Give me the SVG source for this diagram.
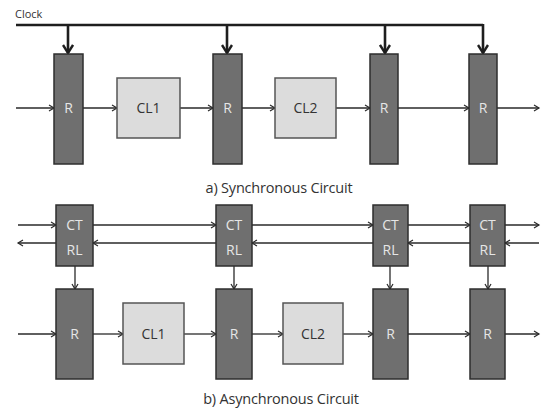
<svg xmlns="http://www.w3.org/2000/svg" width="542" height="410" viewBox="0 0 542 410">
<defs>
<style>
.reg{fill:#6f6f6f;stroke:#2e2e2e;stroke-width:1.5}
.cl{fill:#dcdcdc;stroke:#555;stroke-width:1.5}
.rt{fill:#e6e6e6;font-family:"Open Sans","Liberation Sans",sans-serif;font-size:14px;text-anchor:middle}
.ct{fill:#333;font-family:"Open Sans","Liberation Sans",sans-serif;font-size:14px;text-anchor:middle}
.cap{fill:#333;font-family:"Open Sans","Liberation Sans",sans-serif;font-size:14.5px;text-anchor:middle;letter-spacing:-0.2px}
.w{stroke:#2a2a2a;stroke-width:1.3;fill:none;marker-end:url(#a)}
.v{stroke:#2a2a2a;stroke-width:1.3;fill:none;marker-end:url(#a)}
.clk{stroke:#1e1e1e;stroke-width:2.6;fill:none}
.clkd{stroke:#1e1e1e;stroke-width:2.6;fill:none;marker-end:url(#ca)}
</style>
<marker id="a" markerUnits="userSpaceOnUse" markerWidth="8" markerHeight="8" refX="6" refY="4" orient="auto" viewBox="0 0 8 8">
<path d="M1,1 L6,4 L1,7" fill="none" stroke="#2a2a2a" stroke-width="1.2"/>
</marker>
<marker id="ca" markerUnits="userSpaceOnUse" markerWidth="12" markerHeight="12" refX="9" refY="6" orient="auto" viewBox="0 0 12 12">
<path d="M1,1 L9,6 L1,11" fill="none" stroke="#1e1e1e" stroke-width="2.4"/>
</marker>
</defs>
<rect width="542" height="410" fill="#fff"/>

<g id="connectors">
<text x="15" y="18" style="font-family:'Open Sans','Liberation Sans',sans-serif;font-size:11px;fill:#333">Clock</text>
<path class="clk" d="M16,25 H483"/>
<path class="clkd" d="M68,25 V53"/>
<path class="clkd" d="M227,25 V53"/>
<path class="clkd" d="M385,25 V53"/>
<path class="clkd" d="M483,24 V53"/>

<path class="w" d="M16,108 H54"/>
<path class="w" d="M83,108 H117"/>
<path class="w" d="M180,108 H213"/>
<path class="w" d="M242,108 H275"/>
<path class="w" d="M336,108 H370"/>
<path class="w" d="M398,108 H469"/>
<path class="w" d="M497,108 H539"/>

<path class="w" d="M18,225 H56"/>
<path class="w" d="M93,225 H216"/>
<path class="w" d="M252,225 H373"/>
<path class="w" d="M408,225 H470"/>
<path class="w" d="M505,225 H539"/>

<path class="w" d="M539,243 H505"/>
<path class="w" d="M470,243 H408"/>
<path class="w" d="M373,243 H252"/>
<path class="w" d="M216,243 H93"/>
<path class="w" d="M56,243 H18"/>

<path class="v" d="M75,266 V289"/>
<path class="v" d="M234,266 V289"/>
<path class="v" d="M390,266 V289"/>
<path class="v" d="M488,266 V289"/>

<path class="w" d="M18,334 H56"/>
<path class="w" d="M93,334 H123"/>
<path class="w" d="M184,334 H216"/>
<path class="w" d="M252,334 H283"/>
<path class="w" d="M343,334 H373"/>
<path class="w" d="M408,334 H470"/>
<path class="w" d="M505,334 H539"/>
</g>

<g id="sR1"><rect class="reg" x="54" y="54" width="29" height="110"/><text class="rt" x="68.5" y="113">R</text></g>
<g id="sCL1"><rect class="cl" x="117" y="78" width="63" height="60"/><text class="ct" x="148.5" y="113">CL1</text></g>
<g id="sR2"><rect class="reg" x="213" y="54" width="29" height="110"/><text class="rt" x="227.5" y="113">R</text></g>
<g id="sCL2"><rect class="cl" x="275" y="78" width="61" height="60"/><text class="ct" x="305.5" y="113">CL2</text></g>
<g id="sR3"><rect class="reg" x="370" y="54" width="28" height="110"/><text class="rt" x="384" y="113">R</text></g>
<g id="sR4"><rect class="reg" x="469" y="54" width="28" height="110"/><text class="rt" x="483" y="113">R</text></g>
<text class="cap" x="279" y="193">a) Synchronous Circuit</text>

<g id="C1"><rect class="reg" x="56" y="205" width="37" height="61"/><text class="rt" x="74.5" y="230">CT</text><text class="rt" x="74.5" y="255">RL</text></g>
<g id="C2"><rect class="reg" x="216" y="205" width="36" height="61"/><text class="rt" x="234" y="230">CT</text><text class="rt" x="234" y="255">RL</text></g>
<g id="C3"><rect class="reg" x="373" y="205" width="35" height="61"/><text class="rt" x="390.5" y="230">CT</text><text class="rt" x="390.5" y="255">RL</text></g>
<g id="C4"><rect class="reg" x="470" y="205" width="35" height="61"/><text class="rt" x="487.5" y="230">CT</text><text class="rt" x="487.5" y="255">RL</text></g>

<g id="aR1"><rect class="reg" x="56" y="289" width="37" height="90"/><text class="rt" x="74.5" y="339">R</text></g>
<g id="aCL1"><rect class="cl" x="123" y="303" width="61" height="61"/><text class="ct" x="153.5" y="339">CL1</text></g>
<g id="aR2"><rect class="reg" x="216" y="289" width="36" height="90"/><text class="rt" x="234" y="339">R</text></g>
<g id="aCL2"><rect class="cl" x="283" y="303" width="60" height="61"/><text class="ct" x="313" y="339">CL2</text></g>
<g id="aR3"><rect class="reg" x="373" y="289" width="35" height="90"/><text class="rt" x="390.5" y="339">R</text></g>
<g id="aR4"><rect class="reg" x="470" y="289" width="35" height="90"/><text class="rt" x="487.5" y="339">R</text></g>
<text class="cap" x="281" y="404">b) Asynchronous Circuit</text>
</svg>
